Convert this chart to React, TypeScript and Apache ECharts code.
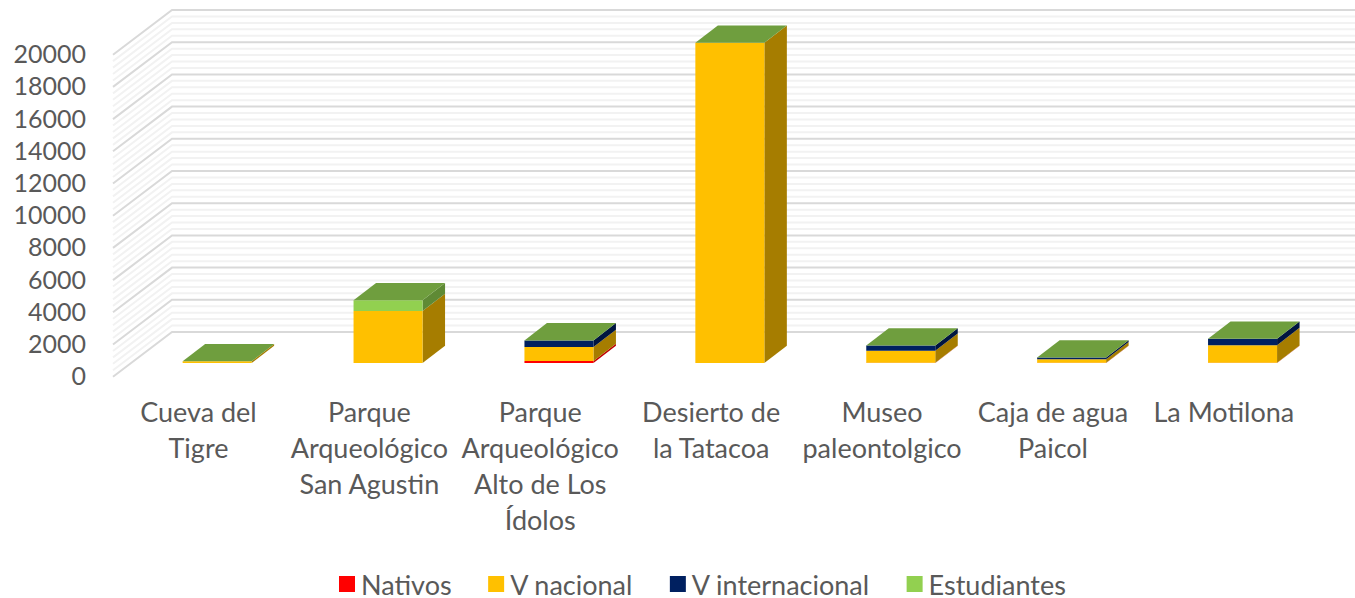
import React, { useEffect, useRef } from "react";
import * as echarts from "echarts";

const categories = [
  "Cueva del\nTigre",
  "Parque\nArqueológico\nSan Agustin",
  "Parque\nArqueológico\nAlto de Los\nÍdolos",
  "Desierto de\nla Tatacoa",
  "Museo\npaleontolgico",
  "Caja de agua\nPaicol",
  "La Motilona",
];
const nativos = [0, 0, 120, 0, 15, 15, 20];
const vNacional = [110, 3230, 870, 19890, 745, 220, 1090];
const vInternacional = [0, 0, 415, 0, 330, 100, 390];
const estudiantes = [0, 660, 0, 0, 0, 0, 0];
const gridValues = Array.from({ length: 51 }, (_, i) => i * 400);

const FONT = "Lato";
const TEXT = "#595959";
const WALL_DX = 59;
const WALL_DY = -44.7;
const BAR_DX = 22.5;
const BAR_DY = -17.3;
const BAR_SHIFT_X = 18.7;
const BAR_SHIFT_Y = -13.7;
const BAR_RATIO = 69 / 170.9;

const palette = [
  { name: "Nativos", values: nativos, front: "#FF0000", side: "#C00000", top: "#BF0000" },
  { name: "V nacional", values: vNacional, front: "#FFC000", side: "#A67D00", top: "#BF9000" },
  { name: "V internacional", values: vInternacional, front: "#002060", side: "#001540", top: "#001848" },
  { name: "Estudiantes", values: estudiantes, front: "#92D050", side: "#5F8A35", top: "#6F9E3E" },
];

function wallSeries() {
  return {
    type: "custom",
    silent: true,
    z: 1,
    data: gridValues.map((v) => [0, v]),
    encode: { x: 0, y: 1 },
    renderItem: (_p: any, api: any) => {
      const v = api.value(1);
      const [, y] = api.coord([0, v]);
      const left = 113;
      const major = v % 2000 === 0;
      return {
        type: "polyline",
        shape: {
          points: [
            [left, y],
            [left + WALL_DX, y + WALL_DY],
            [1400, y + WALL_DY],
          ],
        },
        style: { stroke: major ? "#D9D9D9" : "#F2F2F2", lineWidth: 2, fill: "none" },
      };
    },
  };
}

function stackSeries(index: number) {
  const s = palette[index];
  const isLast = index === palette.length - 1;
  const data = s.values.map((v, i) => {
    let base = 0;
    for (let k = 0; k < index; k++) base += palette[k].values[i];
    return [i, base, base + v];
  });
  return {
    type: "custom",
    name: s.name,
    z: 2 + index,
    itemStyle: { color: s.front },
    data,
    encode: { x: 0, y: [1, 2] },
    renderItem: (_p: any, api: any) => {
      const i = api.value(0);
      const b = api.coord([i, api.value(1)]);
      const t = api.coord([i, api.value(2)]);
      const w = api.size([1, 0])[0] * BAR_RATIO;
      const x0 = b[0] + BAR_SHIFT_X - w / 2;
      const x1 = x0 + w;
      const y0 = b[1] + BAR_SHIFT_Y;
      const y1 = t[1] + BAR_SHIFT_Y;
      const children: any[] = [];
      if (y0 - y1 > 0.01) {
        children.push({
          type: "polygon",
          shape: { points: [[x1, y0], [x1 + BAR_DX, y0 + BAR_DY], [x1 + BAR_DX, y1 + BAR_DY], [x1, y1]] },
          style: { fill: s.side },
        });
        children.push({
          type: "rect",
          shape: { x: x0, y: y1, width: w, height: y0 - y1 },
          style: { fill: s.front },
        });
      }
      if (isLast) {
        children.push({
          type: "polygon",
          shape: { points: [[x0, y1], [x1, y1], [x1 + BAR_DX, y1 + BAR_DY], [x0 + BAR_DX, y1 + BAR_DY]] },
          style: { fill: s.top },
        });
      }
      return { type: "group", children };
    },
  };
}

export default function App() {
  const ref = useRef<HTMLDivElement>(null);
  useEffect(() => {
    document.body.style.margin = "0";
    const chart = echarts.init(ref.current!, null, { renderer: "svg" });
    chart.setOption({
      animation: false,
      backgroundColor: "#ffffff",
      grid: { left: 113, top: 54.7, width: 1196.3, height: 322 },
      legend: {
        data: palette.map((p) => p.name),
        left: 339,
        top: 570,
        padding: 0,
        icon: "rect",
        itemWidth: 16,
        itemHeight: 16,
        itemGap: 36.5,
        selectedMode: false,
        textStyle: { fontFamily: FONT, fontSize: 27, lineHeight: 28, color: TEXT, padding: [0, 0, 0, 1] },
      },
      xAxis: {
        type: "category",
        data: categories,
        axisLine: { show: false },
        axisTick: { show: false },
        splitLine: { show: false },
        axisLabel: {
          interval: 0,
          margin: 17,
          fontFamily: FONT,
          fontSize: 27,
          lineHeight: 36,
          color: TEXT,
        },
      },
      yAxis: {
        type: "value",
        min: 0,
        max: 20000,
        interval: 2000,
        axisLine: { show: false },
        axisTick: { show: false },
        splitLine: { show: false },
        axisLabel: {
          margin: 27,
          fontFamily: FONT,
          fontSize: 25,
          color: TEXT,
          verticalAlign: "bottom",
          lineHeight: 3,
          formatter: (v: number) => String(v),
        },
      },
      series: [wallSeries(), ...palette.map((_, i) => stackSeries(i))],
    });
    return () => chart.dispose();
  }, []);
  return <div ref={ref} style={{ width: 1355, height: 598 }} />;
}
